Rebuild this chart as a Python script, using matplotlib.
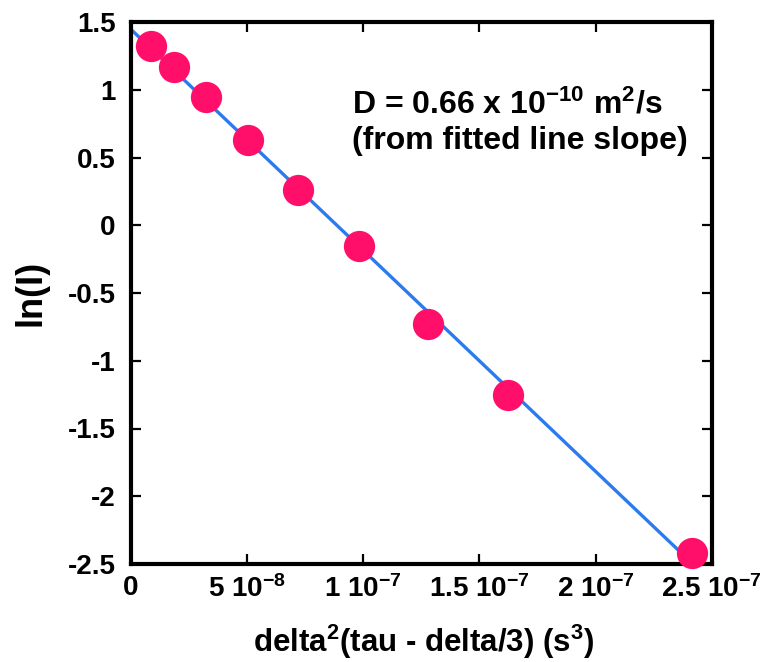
import numpy as np
import matplotlib
matplotlib.use("Agg")
import matplotlib.pyplot as plt

# ---- data ----
x_vals = [0.86e-8, 1.85e-8, 3.26e-8, 5.03e-8, 7.22e-8, 9.84e-8, 1.28e-7, 1.624e-7, 2.414e-7]
y_vals = [1.32, 1.17, 0.945, 0.628, 0.258, -0.156, -0.726, -1.25, -2.419]

x_ticks = [0, 5e-8, 1e-7, 1.5e-7, 2e-7, 2.5e-7]
x_tick_labels = ["0", r"5 10$^{-8}$", r"1 10$^{-7}$", r"1.5 10$^{-7}$", r"2 10$^{-7}$", r"2.5 10$^{-7}$"]
y_ticks = [1.5, 1, 0.5, 0, -0.5, -1, -1.5, -2, -2.5]
y_tick_labels = ["1.5", "1", "0.5", "0", "-0.5", "-1", "-1.5", "-2", "-2.5"]

x_label = r"delta$^{2}$(tau - delta/3) (s$^{3}$)"
y_label = "ln(I)"
note_line1 = r"D = 0.66 x 10$^{-10}$ m$^{2}$/s"
note_line2 = "(from fitted line slope)"

# ---- style ----
plt.rcParams["font.family"] = ["Liberation Sans", "DejaVu Sans"]
plt.rcParams["font.weight"] = "bold"
plt.rcParams["mathtext.fontset"] = "custom"
plt.rcParams["mathtext.rm"] = "Liberation Sans:bold"
plt.rcParams["mathtext.it"] = "Liberation Sans:bold"
plt.rcParams["mathtext.bf"] = "Liberation Sans:bold"
plt.rcParams["mathtext.sf"] = "Liberation Sans:bold"
plt.rcParams["axes.unicode_minus"] = False

fig = plt.figure(figsize=(7.61, 6.62), dpi=100)
ax = fig.add_axes([130.7 / 761, (662 - 564) / 662, (711.7 - 130.7) / 761, (564 - 22) / 662])

x = np.array(x_vals)
y = np.array(y_vals)
slope, intercept = np.polyfit(x, y, 1)
xf = np.array([0.0, x.max()])
ax.plot(xf, slope * xf + intercept, color="#2B7BEF", lw=2.4, zorder=2, solid_capstyle="butt")
ax.plot(x, y, "o", color="#FF0F6A", ms=22.5, mec="none", zorder=3, clip_on=False)

ax.set_xlim(0, 2.5e-7)
ax.set_ylim(-2.5, 1.5)
ax.set_xticks(x_ticks)
ax.set_xticklabels(x_tick_labels)
ax.set_yticks(y_ticks)
ax.set_yticklabels(y_tick_labels)

ax.tick_params(axis="both", direction="in", top=True, right=True, length=7, width=1.6,
               labelsize=20)
ax.tick_params(axis="x", pad=8)
ax.tick_params(axis="y", pad=11)
for s in ax.spines.values():
    s.set_linewidth(3.0)

ax.set_xlabel(x_label, fontsize=22.5, fontweight="bold", va="center")
ax.xaxis.set_label_coords(0.504, -0.143)
ax.set_ylabel(y_label, fontsize=26, fontweight="bold", va="center")
ax.yaxis.set_label_coords(-0.172, 0.5)

ax.text(0.381, 0.832, note_line1, transform=ax.transAxes, fontsize=23, fontweight="bold",
        ha="left", va="baseline")
ax.text(0.381, 0.766, note_line2, transform=ax.transAxes, fontsize=23, fontweight="bold",
        ha="left", va="baseline")

fig.savefig("out.png", dpi=100)
